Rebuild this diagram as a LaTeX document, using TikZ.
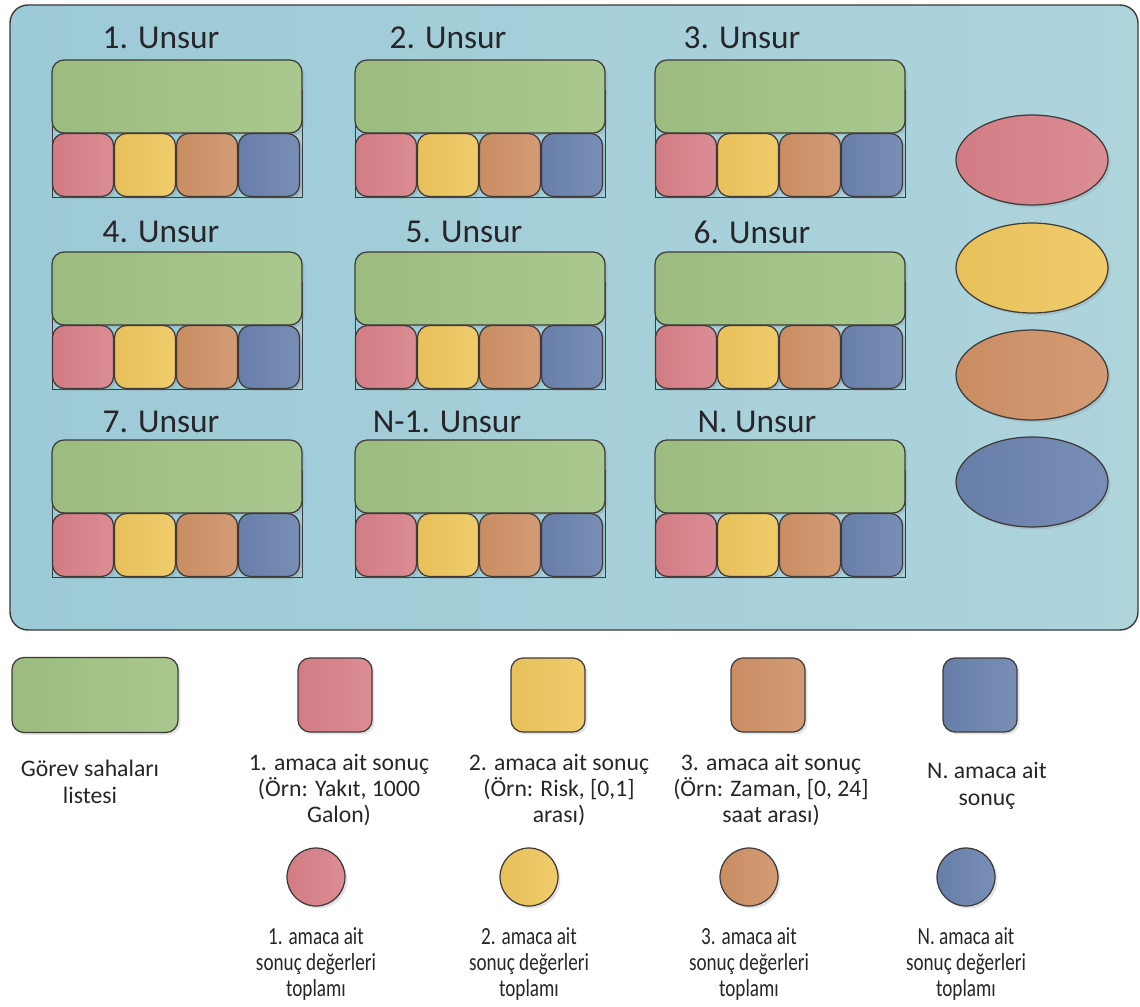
\documentclass[tikz,border=0pt]{standalone}
\usepackage{fontspec}
\setmainfont{Carlito}
\newfontfamily\narrowfont[FakeStretch=0.78]{Carlito}
\usetikzlibrary{shapes.geometric,shadows}

\definecolor{panelleft}{RGB}{156,202,214}
\definecolor{panelright}{RGB}{174,212,220}
\definecolor{listgreen}{RGB}{160,194,130}
\definecolor{resred}{RGB}{216,128,136}
\definecolor{resyellow}{RGB}{238,198,92}
\definecolor{resorange}{RGB}{207,145,102}
\definecolor{resblue}{RGB}{106,130,174}
\definecolor{edgegray}{RGB}{62,58,58}
\definecolor{textgray}{RGB}{38,38,42}

\tikzset{
  tint/.style={left color=#1!97!black, right color=#1!90!white},
  softshadow/.style={drop shadow={opacity=.22, shadow xshift=.05cm, shadow yshift=-.05cm}},
  listbox/.style={draw=edgegray, line width=.7pt, rounded corners=.24cm, tint=listgreen,
    softshadow, minimum width=5cm, minimum height=1.46cm, inner sep=0pt},
  resbox/.style={draw=edgegray, line width=.7pt, rounded corners=.24cm, softshadow,
    minimum width=1.22cm, minimum height=1.26cm, inner sep=0pt},
  sumoval/.style={draw=edgegray, line width=.7pt, ellipse, softshadow,
    minimum width=3.04cm, minimum height=1.8cm, inner sep=0pt},
  sumdot/.style={draw=edgegray, line width=.7pt, circle, softshadow,
    minimum size=1.16cm, inner sep=0pt},
  framebox/.style={draw=edgegray, line width=.5pt},
  unsurtitle/.style={text=textgray, font=\fontsize{19}{22}\selectfont},
  legendtext/.style={text=textgray, align=center, font=\fontsize{13.5}{15}\selectfont},
  sumtext/.style={text=textgray, align=center, font=\narrowfont\fontsize{14}{15}\selectfont}
}

\begin{document}
\begin{tikzpicture}[x=0.02cm, y=-0.02cm]
  \useasboundingbox (0,0) rectangle (1140,1007);

  % big panel holding the units
  \draw[edgegray, line width=.8pt, rounded corners=.36cm, left color=panelleft,
    right color=panelright] (10,5) rectangle (1138,630);

  % one block per unit: title, list of task areas, four results
  \foreach \x/\y/\tx/\ty/\n/\title in {52/60/161/38/1/1. Unsur, 355/60/448/38/2/2. Unsur,
      655/60/742/38/3/3. Unsur, 52/252/161/232/4/4. Unsur, 355/252/464/232/5/5. Unsur,
      655/252/752/232/6/6. Unsur, 52/440/161/422/7/7. Unsur, 355/440/447/422/8/N-1. Unsur,
      655/440/757/422/9/N. Unsur}{
    \draw[framebox] (\x,\y+30) rectangle (\x+250,\y+137);
    \node[unsurtitle] (title\n) at (\tx,\ty) {\title};
    \node[listbox] (list\n) at (\x+125,\y+36.5) {};
    \foreach \c [count=\i] in {resred,resyellow,resorange,resblue}
      \node[resbox, tint=\c] (res\n-\i) at ({\x+31+62*(\i-1)},\y+105) {};
  }

  % totals on the right
  \foreach \c/\y [count=\i] in {resred/160,resyellow/268,resorange/375,resblue/482}
    \node[sumoval, tint=\c] (sum\i) at (1032,\y) {};

  % legend, first row
  \node[listbox, minimum width=3.32cm, minimum height=1.5cm] (keylist) at (95,695) {};
  \node[legendtext] (keylisttext) at (90,782) {Görev sahaları\\listesi};
  \node[resbox, tint=resred, minimum width=1.48cm, minimum height=1.48cm] (keyres1) at (335,695) {};
  \node[resbox, tint=resyellow, minimum width=1.48cm, minimum height=1.48cm] (keyres2) at (548,695) {};
  \node[resbox, tint=resorange, minimum width=1.48cm, minimum height=1.48cm] (keyres3) at (768,695) {};
  \node[resbox, tint=resblue, minimum width=1.48cm, minimum height=1.48cm] (keyres4) at (980,695) {};
  \node[legendtext] (keyres1text) at (339,790) {1. amaca ait sonuç\\(Örn: Yakıt, 1000\\Galon)};
  \node[legendtext] (keyres2text) at (559,790) {2. amaca ait sonuç\\(Örn: Risk, [0,1]\\arası)};
  \node[legendtext] (keyres3text) at (771,790) {3. amaca ait sonuç\\(Örn: Zaman, [0, 24]\\saat arası)};
  \node[legendtext] (keyres4text) at (987,786) {N. amaca ait\\sonuç};

  % legend, second row
  \foreach \c/\x/\k in {resred/316/1,resyellow/529/2,resorange/749/3,resblue/966/N}{
    \node[sumdot, tint=\c] (keysum\k) at (\x,877) {};
    \node[sumtext] (keysum\k text) at (\x,964) {\k. amaca ait\\sonuç değerleri\\toplamı};
  }
\end{tikzpicture}
\end{document}
